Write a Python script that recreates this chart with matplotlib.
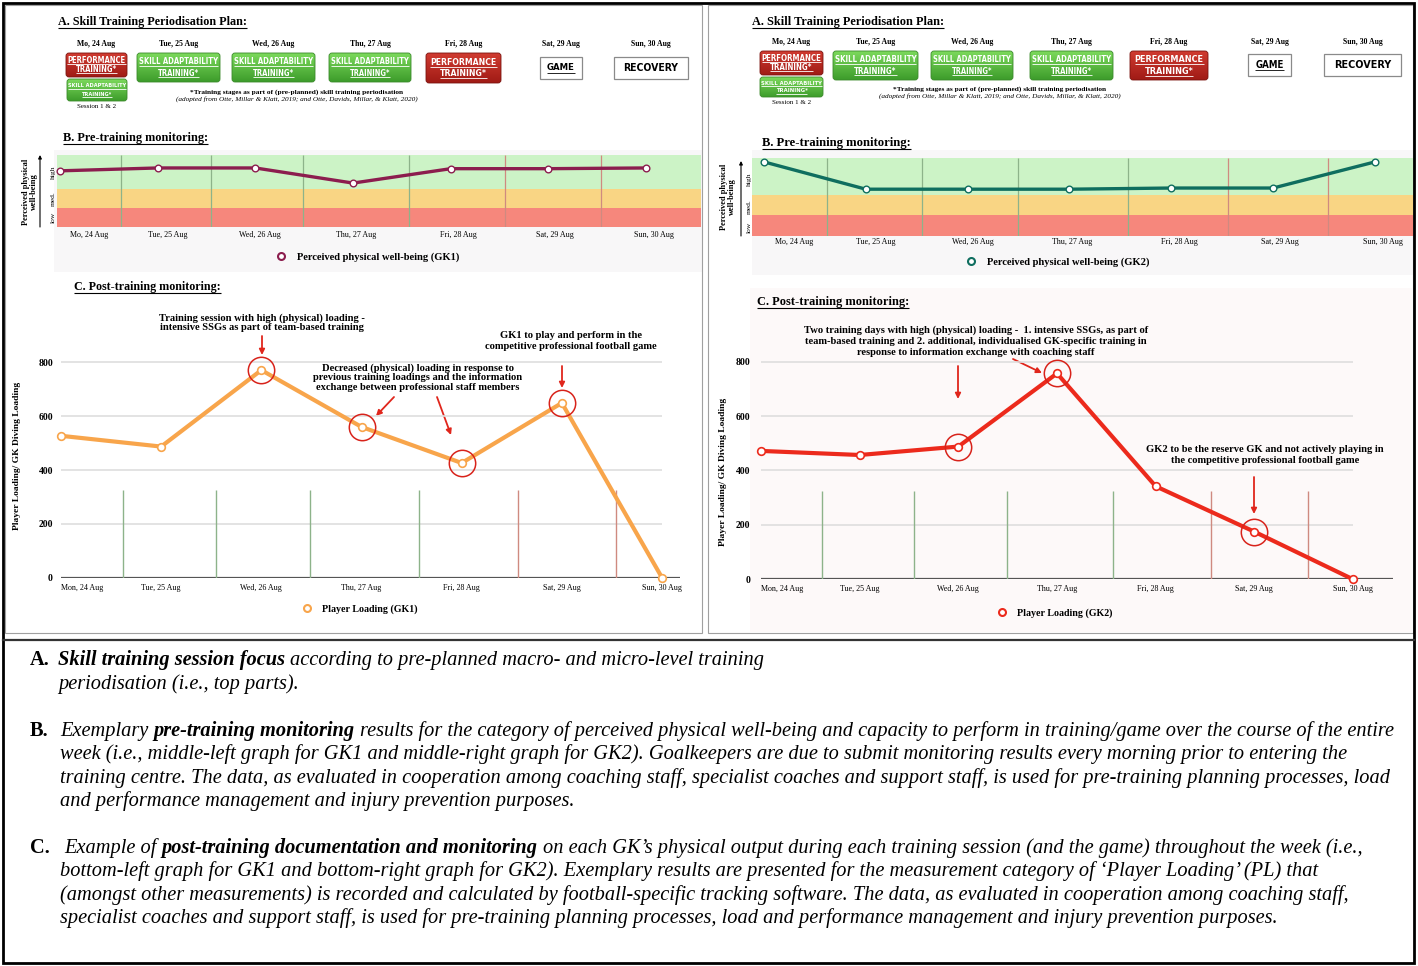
import numpy as np
import matplotlib
matplotlib.use('Agg')
import matplotlib.pyplot as plt
from matplotlib.patches import FancyBboxPatch, Rectangle
from matplotlib.lines import Line2D
from matplotlib.colors import LinearSegmentedColormap
from matplotlib import font_manager as fm

# ---------------- data ----------------
plan_days = ['Mo, 24 Aug', 'Tue, 25 Aug', 'Wed, 26 Aug', 'Thu, 27 Aug',
             'Fri, 28 Aug', 'Sat, 29 Aug', 'Sun, 30 Aug']
load_days = ['Mon, 24 Aug', 'Tue, 25 Aug', 'Wed, 26 Aug', 'Thu, 27 Aug',
             'Fri, 28 Aug', 'Sat, 29 Aug', 'Sun, 30 Aug']
plan_sessions = ['PERFORMANCE\nTRAINING*', 'SKILL ADAPTABILITY\nTRAINING*',
                 'SKILL ADAPTABILITY\nTRAINING*', 'SKILL ADAPTABILITY\nTRAINING*',
                 'PERFORMANCE\nTRAINING*', 'GAME', 'RECOVERY']
plan_types = ['perf', 'skill', 'skill', 'skill', 'perf', 'game', 'recovery']
mon_second_session = 'SKILL ADAPTABILITY\nTRAINING*'
mon_session_note = 'Session 1 & 2'
plan_footnote = ['*Training stages as part of (pre-planned) skill training periodisation',
                 '(adopted from Otte, Millar & Klatt, 2019; and Otte, Davids, Millar, & Klatt, 2020)']

wellbeing_gk1 = [78, 82, 82, 61, 81, 81, 82]
wellbeing_gk2 = [95, 60, 60, 60, 61.5, 61.5, 95]
wellbeing_bands = [0, 27, 53, 100]
band_labels = ['low', 'med.', 'high']

loading_gk1 = [527, 487, 771, 560, 426, 649, 0]
loading_gk2 = [472, 457, 488, 757, 342, 175, 0]
highlight_gk1 = [2, 3, 4, 5]
highlight_gk2 = [2, 3, 5]
loading_ticks = [0, 200, 400, 600, 800]

session_breaks = [0.62, 1.55, 2.49, 3.57, 4.56, 5.54]
break_kinds = ['train', 'train', 'train', 'train', 'game', 'game']
break_top_loading = 326

# ---------------- setup ----------------
W, H = 1418, 966
SERIF = ['Liberation Serif', 'DejaVu Serif']
try:
    fm.findfont(fm.FontProperties(family='Liberation Sans Narrow'), fallback_to_default=False)
    NARROW = ['Liberation Sans Narrow', 'DejaVu Sans']
    HAVE_NARROW = True
except Exception:
    NARROW = ['DejaVu Sans']
    HAVE_NARROW = False
PT = 100 / 72.0

fig = plt.figure(figsize=(W / 100, H / 100), dpi=100)
fig.patch.set_facecolor('white')
bg = fig.add_axes([0, 0, 1, 1], zorder=0)
bg.set_xlim(0, W)
bg.set_ylim(H, 0)
bg.axis('off')
bg.set_autoscale_on(False)
R = fig.canvas.get_renderer()


def txt(x, y, s, size=8, bold=False, italic=False, fam=SERIF, color='black',
        ha='left', va='center', rot=0, ls=1.2, z=5, **kw):
    return bg.text(x, y, s, fontsize=size, fontweight='bold' if bold else 'normal',
                   fontstyle='italic' if italic else 'normal', family=fam, color=color,
                   ha=ha, va=va, rotation=rot, linespacing=ls, zorder=z, **kw)


def fit(t, target, horiz=True):
    bb = t.get_window_extent(R)
    cur = bb.width if horiz else bb.height
    t.set_fontsize(t.get_fontsize() * target / cur)
    return t.get_fontsize()


def underline(t, y, color='black', lw=0.7):
    bb = t.get_window_extent(R)
    bg.plot([bb.x0, bb.x1], [y, y], color=color, lw=lw, solid_capstyle='butt', zorder=6)


def title(x, y, s, target):
    t = txt(x, y, s, 8, bold=True)
    fs = fit(t, target)
    underline(t, y + 0.45 * fs * PT + 0.5, lw=0.8)


def gradbox(x0, y0, x1, y1, top, bot, edge):
    p = FancyBboxPatch((x0, y0), x1 - x0, y1 - y0,
                       boxstyle='round,pad=0,rounding_size=3',
                       fc='none', ec=edge, lw=0.6, zorder=3)
    bg.add_patch(p)
    grad = np.linspace(0, 1, 64)[:, None]
    cmap = LinearSegmentedColormap.from_list('g', [top, bot])
    im = bg.imshow(grad, extent=[x0, x1, y1, y0], cmap=cmap, aspect='auto',
                   zorder=2, interpolation='bilinear')
    im.set_clip_path(p)


def box_text(box, s, ratio, color, ul=True):
    x0, y0, x1, y1 = box
    cx, cy = (x0 + x1) / 2, (y0 + y1) / 2
    lines = s.split('\n')
    h = y1 - y0
    if len(lines) == 2:
        ys = [cy - 0.19 * h, cy + 0.19 * h]
    else:
        ys = [cy]
    ts = [txt(cx, y, l, 10, bold=True, fam=NARROW, color=color, ha='center',
              fontstretch='condensed') for y, l in zip(ys, lines)]
    wmax = max(t.get_window_extent(R).width for t in ts)
    fs = 10 * ratio * (x1 - x0) / wmax
    # do not exceed box height
    fs = min(fs, 0.42 * h / PT / len(lines) * 1.6)
    for t in ts:
        t.set_fontsize(fs)
    if ul:
        for t, y in zip(ts, ys):
            underline(t, y + 0.5 * fs * PT, color=color, lw=0.6)


BOXSTYLE = {
    'perf': dict(top='#d03b31', bot='#a01b15', edge='#7a130e', tc='white', ul=True),
    'skill': dict(top='#7cd95c', bot='#3d9c2b', edge='#3a8a2a', tc='white', ul=True),
    'game': dict(tc='black', ul=True),
    'recovery': dict(tc='black', ul=False),
}
BRK_COL = {'train': '#8db38a', 'game': '#cf8a80'}

FILLS = [0.95, 0.95, 0.95, 0.95, 0.88, 0.66, 0.74] if not HAVE_NARROW else [0.92, 0.92, 0.92, 0.92, 0.85, 0.62, 0.70]

layouts = [
    dict(
        title_a=(58, 22, 188), day_y=44,
        boxes=[(66, 53, 127, 77), (137, 53, 220, 82), (232, 53, 315, 82), (329, 53, 411, 82),
               (426, 53, 501, 83), (540, 57, 582, 79), (614, 57, 688, 79)],
        mon2=(67, 79, 127, 101), session_y=107, foot=(297, 92, 99),
        title_b=(63, 138, 144), title_c=(74, 287, 146),
        bbox=(57, 155, 701, 227), bp0=60, bsp=97.67, bpad=3.2,
        bylab=(29.5, 192), barrow=(40, 227, 155), bhml=(53, [217, 199, 172]),
        bleg=(297, 257),
        cbox=(61, 300, 680, 577.7), cp0=61, csp=100.17, ck=0.26925, cbase0=0.0,
        cylab=(17, 456), cleg=(322, 609), cpad_y=5.8,
        bg_b=(54, 150, 702, 272), bg_c=None,
        wb=wellbeing_gk1, wb_col='#8C1D4E', wb_label='Perceived physical well-being (GK1)',
        ld=loading_gk1, ld_col='#F8A54B', ld_label='Player Loading (GK1)', hl=highlight_gk1,
        ann=[(262, [317.7, 327.2], ['Training session with high (physical) loading -',
                                    'intensive SSGs as part of team-based training']),
             (418, [368.3, 377.7, 387.1], ['Decreased (physical) loading in response to',
                                           'previous training loadings and the information',
                                           'exchange between professional staff members']),
             (571, [335.7, 346.3], ['GK1 to play and perform in the',
                                    'competitive professional football game'])],
        arrows=[((262, 336), (262, 355)), ((394, 397), (376, 416)),
                ((437, 397), (451, 435)), ((562, 366), (562, 388))],
    ),
    dict(
        title_a=(752, 22, 190), day_y=42,
        boxes=[(760, 51, 823, 75), (833, 51, 918, 80), (931, 51, 1013, 80), (1030, 51, 1113, 80),
               (1130, 51, 1208, 80), (1248, 54, 1291, 76), (1324, 54, 1401, 76)],
        mon2=(760, 77, 823, 97), session_y=103, foot=(1000, 89, 96),
        title_b=(762, 143, 148), title_c=(757, 302, 150),
        bbox=(752, 158, 1413, 236), bp0=764, bsp=101.83, bpad=1.8,
        bylab=(728, 197), barrow=(741, 236, 161), bhml=(749, [227, 207, 179]),
        bleg=(987, 262),
        cbox=(761, 300, 1393, 579.3), cp0=761, csp=98.67, ck=0.2720, cbase0=-0.07,
        cylab=(723, 472), cleg=(1017, 613), cpad_y=7.9,
        bg_b=(752, 150, 1413, 275), bg_c=(750, 288, 1412, 632),
        wb=wellbeing_gk2, wb_col='#0F6E5F', wb_label='Perceived physical well-being (GK2)',
        ld=loading_gk2, ld_col='#EC2A1C', ld_label='Player Loading (GK2)', hl=highlight_gk2,
        ann=[(976, [330, 341, 352.3], ['Two training days with high (physical) loading -  1. intensive SSGs, as part of',
                                      'team-based training and 2. additional, individualised GK-specific training in',
                                      'response to information exchange with coaching staff']),
             (1265, [450, 460.7], ['GK2 to be the reserve GK and not actively playing in',
                                   'the competitive professional football game'])],
        arrows=[((958, 366), (958, 399)), ((1013, 359), (1042, 373)), ((1254, 477), (1254, 514))],
    ),
]

b_label_pos = [0.3, 1.1, 2.05, 3.03, 4.08, 5.07, 6.08]

# frames
bg.add_patch(Rectangle((5, 5), 697, 628, fc='none', ec='#a0a0a0', lw=0.8, zorder=1))
bg.add_patch(Rectangle((708, 5), 705, 628, fc='none', ec='#a0a0a0', lw=0.8, zorder=1))
bg.add_patch(Rectangle((3, 3), 1411, 960, fc='none', ec='black', lw=2.0, zorder=8))
bg.plot([3, 1414], [640, 640], color='#333333', lw=1.6, zorder=8)


def make_ax(box, p0, sp):
    l, t, r, b = box
    ax = fig.add_axes([l / W, 1 - b / H, (r - l) / W, (b - t) / H], zorder=2)
    ax.set_xlim((l - p0) / sp, (r - p0) / sp)
    ax.patch.set_alpha(0)
    for s in ax.spines.values():
        s.set_visible(False)
    return ax


def legend(ax, text_x, y, color, label, fs):
    hlen, htp = 1.2, 0.9
    ax_x = text_x - (hlen + htp) * fs * PT
    h = Line2D([], [], ls='none', marker='o', ms=5, mfc='white', mec=color, mew=1.5)
    ax.legend(handles=[h], labels=[label], loc='center left',
              bbox_to_anchor=(ax_x / W, 1 - y / H), bbox_transform=fig.transFigure,
              frameon=False, handlelength=hlen, handletextpad=htp, borderpad=0,
              borderaxespad=0, prop={'family': SERIF, 'weight': 'bold', 'size': fs})


x = np.arange(len(plan_days))

for L in layouts:
    # light backgrounds
    if L['bg_b']:
        a, b_, c, d = L['bg_b']
        bg.add_patch(Rectangle((a, b_), c - a, d - b_, fc='#f8f7f8', ec='none', zorder=0.5))
    if L['bg_c']:
        a, b_, c, d = L['bg_c']
        bg.add_patch(Rectangle((a, b_), c - a, d - b_, fc='#fdf9f9', ec='none', zorder=0.5))

    # ---- A. plan ----
    title(*L['title_a'][:2], 'A. Skill Training Periodisation Plan:', L['title_a'][2])
    for bx, day in zip(L['boxes'], plan_days):
        txt((bx[0] + bx[2]) / 2, L['day_y'], day, 5.6, bold=True, ha='center')
    for bx, s, kind, fr in zip(L['boxes'], plan_sessions, plan_types, FILLS):
        st = BOXSTYLE[kind]
        if kind in ('perf', 'skill'):
            gradbox(*bx, st['top'], st['bot'], st['edge'])
        else:
            bg.add_patch(Rectangle((bx[0], bx[1]), bx[2] - bx[0], bx[3] - bx[1],
                                   fc='white', ec='#8a8a8a', lw=0.9, zorder=3))
        box_text(bx, s, fr, st['tc'], st['ul'])
    st = BOXSTYLE['skill']
    gradbox(*L['mon2'], st['top'], st['bot'], st['edge'])
    box_text(L['mon2'], mon_second_session, 0.96, 'white', True)
    txt((L['mon2'][0] + L['mon2'][2]) / 2, L['session_y'], mon_session_note, 5.0, ha='center')
    fx, fy1, fy2 = L['foot']
    t1 = txt(fx, fy1, plan_footnote[0], 6, bold=True, ha='center')
    fit(t1, 216)
    t2 = txt(fx, fy2, plan_footnote[1], 6, italic=True, ha='center')
    fit(t2, 246)

    # ---- B. pre-training ----
    title(*L['title_b'][:2], 'B. Pre-training monitoring:', L['title_b'][2])
    axb = make_ax(L['bbox'], L['bp0'], L['bsp'])
    axb.set_ylim(wellbeing_bands[0], wellbeing_bands[-1])
    band_cols = ['#F6877C', '#F9D584', '#CCF3C6']
    for lo, hi, c in zip(wellbeing_bands[:-1], wellbeing_bands[1:], band_cols):
        axb.axhspan(lo, hi, color=c, lw=0, zorder=0)
    axb.vlines(session_breaks, wellbeing_bands[0], wellbeing_bands[-1],
               colors=[BRK_COL[k] for k in break_kinds], lw=0.9, zorder=1)
    axb.plot(x, L['wb'], color=L['wb_col'], lw=2.4, marker='o', ms=4.8, mfc='white',
             mec=L['wb_col'], mew=1.0, zorder=3, clip_on=False)
    axb.set_yticks([])
    axb.set_xticks(b_label_pos)
    axb.set_xticklabels(plan_days, fontsize=5.8, family=SERIF)
    axb.tick_params(axis='x', length=0, pad=L['bpad'])
    yl = txt(*L['bylab'], 'Perceived physical\nwell-being', 5.4, bold=True, ha='center',
             rot=90, ls=1.0)
    fit(yl, 66, horiz=False)
    ax_x, ay0, ay1 = L['barrow']
    bg.annotate('', xy=(ax_x, ay1), xytext=(ax_x, ay0),
                arrowprops=dict(arrowstyle='-|>', color='black', lw=0.8, mutation_scale=5,
                                shrinkA=0, shrinkB=0), zorder=5)
    hx, hys = L['bhml']
    for lab, yy in zip(band_labels, hys):
        txt(hx, yy, lab, 5.4, ha='center', rot=90)
    legend(axb, L['bleg'][0], L['bleg'][1], L['wb_col'], L['wb_label'], 7.6)

    # ---- C. post-training ----
    title(*L['title_c'][:2], 'C. Post-training monitoring:', L['title_c'][2])
    axc = make_ax(L['cbox'], L['cp0'], L['csp'])
    l, t, r, b = L['cbox']
    axc.set_ylim(0, (b - t) / L['ck'])
    axc.hlines(loading_ticks[1:], 0, len(x) - 1, color='#dedede', lw=1.2, zorder=0)
    axc.hlines(0, L['cbase0'], axc.get_xlim()[1], color='#555555', lw=1.6, zorder=1)
    axc.vlines(session_breaks, 0, break_top_loading,
               colors=[BRK_COL[k] for k in break_kinds], lw=1.0, zorder=1)
    axc.plot(x, L['ld'], color=L['ld_col'], lw=3.0, marker='o', ms=5.5, mfc='white',
             mec=L['ld_col'], mew=1.2, zorder=3, clip_on=False)
    hi = L['hl']
    axc.plot(x[hi], np.array(L['ld'])[hi], ls='none', marker='o', ms=19, mfc='none',
             mec='#d8231b', mew=1.1, zorder=4, clip_on=False)
    axc.set_yticks(loading_ticks)
    axc.set_yticklabels([str(v) for v in loading_ticks], fontsize=7, family=SERIF,
                        fontweight='bold')
    axc.tick_params(axis='y', length=0, pad=L['cpad_y'])
    axc.set_xticks(x)
    labs = axc.set_xticklabels(load_days, fontsize=5.8, family=SERIF)
    labs[0].set_ha('left')
    axc.tick_params(axis='x', length=0, pad=4.3)
    ylc = txt(*L['cylab'], 'Player Loading/ GK Diving Loading', 7, bold=True,
              ha='center', rot=90)
    fit(ylc, 148, horiz=False)
    legend(axc, L['cleg'][0], L['cleg'][1], L['ld_col'], L['ld_label'], 7.2)

    # annotations
    for cx, ys, lines in L['ann']:
        for yy, s in zip(ys, lines):
            txt(cx, yy, s, 7.6, bold=True, ha='center')
    for (x0, y0), (x1, y1) in L['arrows']:
        bg.annotate('', xy=(x1, y1), xytext=(x0, y0),
                    arrowprops=dict(arrowstyle='-|>', color='#e0261c', lw=1.3,
                                    mutation_scale=8, shrinkA=0, shrinkB=0), zorder=6)

# ---------------- bottom caption ----------------
caption = [
    ('A.', 30, [(58, 658, [('Skill training session focus', 'bi'),
                           (' according to pre-planned macro- and micro-level training', 'i')]),
                (58, 682, [('periodisation (i.e., top parts).', 'i')])]),
    ('B.', 30, [(60, 729, [('Exemplary ', 'i'), ('pre-training monitoring', 'bi'),
                           (' results for the category of perceived physical well-being and capacity to perform in training/game over the course of the entire', 'i')]),
                (60, 752, [('week (i.e., middle-left graph for GK1 and middle-right graph for GK2). Goalkeepers are due to submit monitoring results every morning prior to entering the', 'i')]),
                (60, 776, [('training centre. The data, as evaluated in cooperation among coaching staff, specialist coaches and support staff, is used for pre-training planning processes, load', 'i')]),
                (60, 799, [('and performance management and injury prevention purposes.', 'i')])]),
    ('C.', 30, [(64, 846, [('Example of ', 'i'), ('post-training documentation and monitoring', 'bi'),
                           (' on each GK\u2019s physical output during each training session (and the game) throughout the week (i.e.,', 'i')]),
                (60, 869, [('bottom-left graph for GK1 and bottom-right graph for GK2). Exemplary results are presented for the measurement category of \u2018Player Loading\u2019 (PL) that', 'i')]),
                (60, 893, [('(amongst other measurements) is recorded and calculated by football-specific tracking software. The data, as evaluated in cooperation among coaching staff,', 'i')]),
                (60, 916, [('specialist coaches and support staff, is used for pre-training planning processes, load and performance management and injury prevention purposes.', 'i')])]),
]


def seg_width(s, style, size):
    t = txt(0, 0, s, size, bold='b' in style, italic='i' in style)
    w = t.get_window_extent(R).width
    t.remove()
    return w


def space_w(style, size):
    return seg_width('n n', style, size) - seg_width('nn', style, size)


def line_width(segs, size):
    w = 0
    for s, st in segs:
        if s.startswith(' '):
            w += space_w(st, size)
        w += seg_width(s.strip(), st, size)
        if s.endswith(' '):
            w += space_w(st, size)
    return w


ref_segs = caption[1][2][0][2]
CAP_FS = 14 * 1335 / line_width(ref_segs, 14)


def rich(x0, yc, segs, size):
    cur = x0
    base = yc + 0.33 * size * PT
    for s, st in segs:
        if s.startswith(' '):
            cur += space_w(st, size)
        t = txt(cur, base, s.strip(), size, bold='b' in st, italic='i' in st, va='baseline')
        cur += t.get_window_extent(R).width
        if s.endswith(' '):
            cur += space_w(st, size)


for lab, lx, lines in caption:
    txt(lx, lines[0][1] + 0.33 * CAP_FS * PT, lab, CAP_FS, bold=True, va='baseline')
    for x0, yc, segs in lines:
        rich(x0, yc, segs, CAP_FS)

bg.set_xlim(0, W)
bg.set_ylim(H, 0)
fig.savefig('out.png', dpi=100, facecolor='white')
